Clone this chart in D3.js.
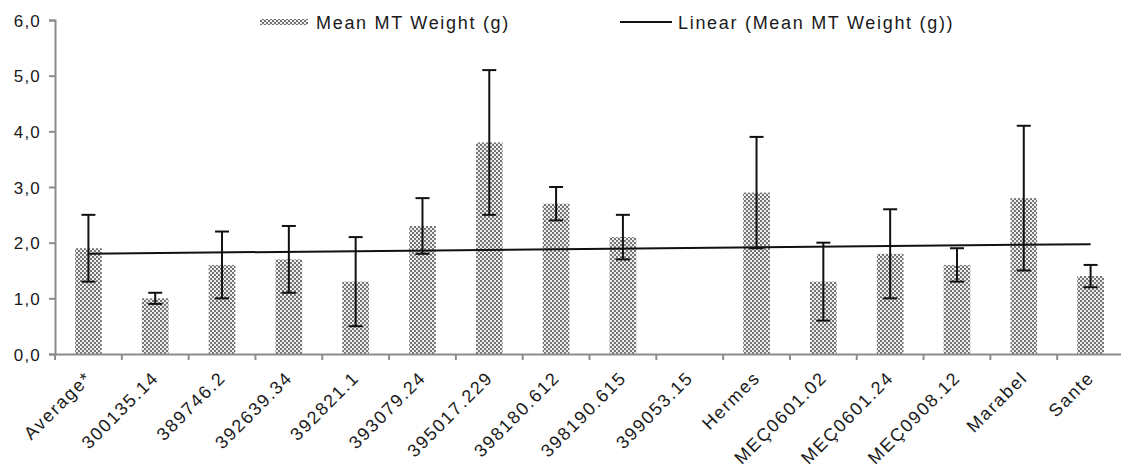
<html>
<head>
<script src="https://cdn.jsdelivr.net/npm/d3@7"></script>
<style>
    body {
        margin: 0;
        background: #fff;
        font-family: Arial, "Liberation Sans", Helvetica, sans-serif;
    }
    svg { display: block; }
</style>
</head>
<body>
<svg id="Chart"></svg>
<script>
// values
let categories = ["Average*", "300135.14", "389746.2", "392639.34", "392821.1", "393079.24",
    "395017.229", "398180.612", "398190.615", "399053.15", "Hermes", "MEÇ0601.02",
    "MEÇ0601.24", "MEÇ0908.12", "Marabel", "Sante"];
let meanWeight = [1.9, 1.0, 1.6, 1.7, 1.3, 2.3, 3.8, 2.7, 2.1, null, 2.9, 1.3, 1.8, 1.6, 2.8, 1.4];
let errLow = [1.3, 0.9, 1.0, 1.1, 0.5, 1.8, 2.5, 2.4, 1.7, null, 1.9, 0.6, 1.0, 1.3, 1.5, 1.2];
let errHigh = [2.5, 1.1, 2.2, 2.3, 2.1, 2.8, 5.1, 3.0, 2.5, null, 3.9, 2.0, 2.6, 1.9, 4.1, 1.6];
let yTicks = [0, 1, 2, 3, 4, 5, 6];
let legendLabels = ["Mean MT Weight (g)", "Linear (Mean MT Weight (g))"];

let rows = categories.map((c, i) => ({ name: c, value: meanWeight[i], low: errLow[i], high: errHigh[i] }));

function getConfig() {
    let width = 1121;
    let height = 473;
    // the plot runs off the right edge a little, like in the original
    let margin = { top: 20, left: 55, right: -3, bottom: 119 };
    let container = d3.select("#Chart").attr("width", width).attr("height", height);
    return { width, height, margin, container };
}

function getScales(config) {
    let { width, height, margin } = config;
    let xScale = d3.scaleBand()
        .domain(categories)
        .range([margin.left, width - margin.right])
        .padding(0);
    let yScale = d3.scaleLinear()
        .domain([0, 6])
        .range([height - margin.bottom, margin.top]);
    return { xScale, yScale };
}

function addPattern(container) {
    let p = container.append("defs").append("pattern")
        .attr("id", "checker")
        .attr("patternUnits", "userSpaceOnUse")
        .attr("width", 4).attr("height", 4);
    p.append("rect").attr("width", 4).attr("height", 4).attr("fill", "#eeeeee");
    p.append("rect").attr("width", 2).attr("height", 2).attr("fill", "#747474");
    p.append("rect").attr("x", 2).attr("y", 2).attr("width", 2).attr("height", 2).attr("fill", "#747474");
}

function drawBars(scales, config) {
    let { xScale, yScale } = scales;
    let barW = xScale.bandwidth() * 0.4;
    config.container.append("g").selectAll("rect")
        .data(rows.filter(d => d.value != null))
        .enter().append("rect")
        .attr("x", d => xScale(d.name) + xScale.bandwidth() / 2 - barW / 2)
        .attr("width", barW)
        .attr("y", d => yScale(d.value))
        .attr("height", d => yScale(0) - yScale(d.value))
        .attr("fill", "url(#checker)");
}

function drawTrend(scales, config) {
    let { xScale, yScale } = scales;
    // Excel style linear trendline, x = 1..n, blank cell counted as 0
    let pts = rows.map((d, i) => [i + 1, d.value == null ? 0 : d.value]);
    let mx = d3.mean(pts, p => p[0]);
    let my = d3.mean(pts, p => p[1]);
    let sxy = d3.sum(pts, p => (p[0] - mx) * (p[1] - my));
    let sxx = d3.sum(pts, p => (p[0] - mx) * (p[0] - mx));
    let slope = sxy / sxx;
    let f = x => my + slope * (x - mx);
    let first = rows[0], last = rows[rows.length - 1];
    let cx = d => xScale(d.name) + xScale.bandwidth() / 2;
    config.container.append("line")
        .attr("x1", cx(first)).attr("y1", yScale(f(1)))
        .attr("x2", cx(last)).attr("y2", yScale(f(rows.length)))
        .attr("stroke", "#111").attr("stroke-width", 2);
}

function drawErrorBars(scales, config) {
    let { xScale, yScale } = scales;
    let cap = 7;
    let g = config.container.append("g")
        .attr("stroke", "#111").attr("stroke-width", 2);
    let data = rows.filter(d => d.value != null);
    let cx = d => xScale(d.name) + xScale.bandwidth() / 2;
    g.selectAll(".stem").data(data).enter().append("line")
        .attr("x1", cx).attr("x2", cx)
        .attr("y1", d => yScale(d.low)).attr("y2", d => yScale(d.high));
    g.selectAll(".capTop").data(data).enter().append("line")
        .attr("x1", d => cx(d) - cap).attr("x2", d => cx(d) + cap)
        .attr("y1", d => yScale(d.high)).attr("y2", d => yScale(d.high));
    g.selectAll(".capBot").data(data).enter().append("line")
        .attr("x1", d => cx(d) - cap).attr("x2", d => cx(d) + cap)
        .attr("y1", d => yScale(d.low)).attr("y2", d => yScale(d.low));
}

function drawAxes(scales, config) {
    let { xScale, yScale } = scales;
    let { container, margin, height } = config;

    let axisY = d3.axisLeft(yScale)
        .tickValues(yTicks)
        .tickSize(6)
        .tickFormat(d => d3.format(".1f")(d).replace(".", ","));
    let gy = container.append("g")
        .attr("transform", `translate(${margin.left},0)`)
        .call(axisY);
    gy.select(".domain").attr("stroke", "#8c8c8c").attr("stroke-width", 2);
    gy.selectAll(".tick line").attr("stroke", "#8c8c8c").attr("stroke-width", 2);
    gy.selectAll("text")
        .attr("x", -14).attr("dy", "0.36em")
        .style("font-size", "17px").style("letter-spacing", "1.2px")
        .style("font-family", "Arial, 'Liberation Sans', sans-serif")
        .attr("fill", "#1a1a1a");

    let axisX = d3.axisBottom(xScale).tickSize(0).tickSizeOuter(0);
    let gx = container.append("g")
        .attr("transform", `translate(0,${height - margin.bottom})`)
        .call(axisX);
    gx.select(".domain").attr("stroke", "#8c8c8c").attr("stroke-width", 2);
    // ticks sit on the band edges
    gx.selectAll(".edge").data(categories).enter().append("line")
        .attr("x1", d => xScale(d)).attr("x2", d => xScale(d))
        .attr("y1", 0).attr("y2", 6)
        .attr("stroke", "#8c8c8c").attr("stroke-width", 2);
    gx.selectAll(".tick text")
        .attr("y", 0).attr("dy", 0)
        .attr("text-anchor", "end")
        .attr("transform", `translate(${xScale.bandwidth() * 0.07},25) rotate(-45)`)
        .style("font-size", "18px").style("letter-spacing", "1.7px")
        .style("font-family", "Arial, 'Liberation Sans', sans-serif")
        .attr("fill", "#1a1a1a");
}

function drawLegend(config) {
    let c = config.container;
    c.append("rect")
        .attr("x", 260).attr("y", 19).attr("width", 48).attr("height", 6)
        .attr("fill", "url(#checker)");
    c.append("text")
        .attr("x", 316).attr("y", 29)
        .style("font-size", "18px").style("letter-spacing", "1.7px")
        .attr("fill", "#1a1a1a")
        .text(legendLabels[0]);
    c.append("line")
        .attr("x1", 620).attr("x2", 672).attr("y1", 22).attr("y2", 22)
        .attr("stroke", "#111").attr("stroke-width", 2);
    c.append("text")
        .attr("x", 678).attr("y", 29)
        .style("font-size", "18px").style("letter-spacing", "1.7px")
        .attr("fill", "#1a1a1a")
        .text(legendLabels[1]);
}

function showChart() {
    let config = getConfig();
    let scales = getScales(config);
    addPattern(config.container);
    drawBars(scales, config);
    drawTrend(scales, config);
    drawErrorBars(scales, config);
    drawAxes(scales, config);
    drawLegend(config);
}

showChart();
</script>
</body>
</html>
